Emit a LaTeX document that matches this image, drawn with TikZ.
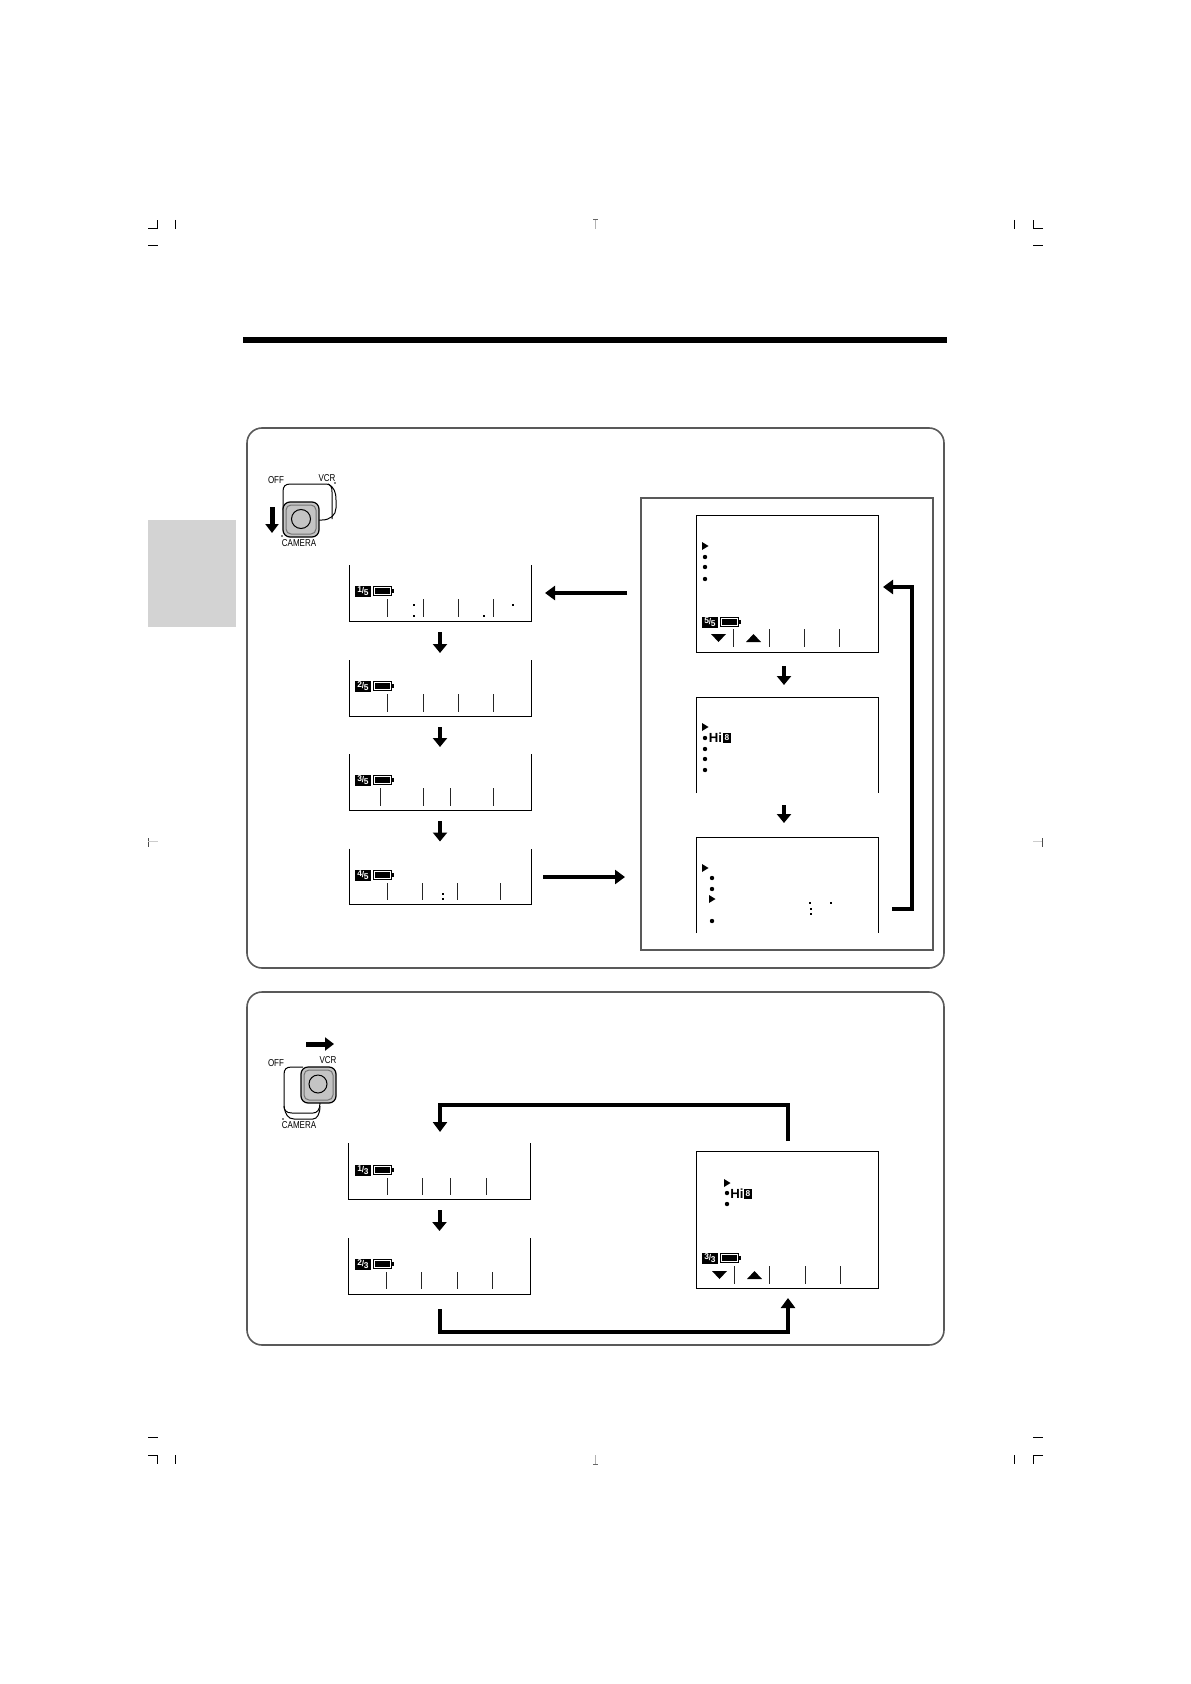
\documentclass[tikz,border=0pt]{standalone}
\usepackage{fontspec}
\setmainfont{Liberation Sans}
\usetikzlibrary{arrows.meta}
\definecolor{tabgray}{HTML}{D3D3D3}
\definecolor{keygray}{HTML}{C4C4C4}
\newcommand{\frc}[2]{\raisebox{.6pt}{#1}\kern-.1pt/\kern-.1pt\raisebox{-.6pt}{#2}}
\newcommand{\status}[5]{%
  \begin{scope}[shift={(#2,#3)}]
    \node[badge] (#1-badge) at (8,5) {\frc{#4}{#5}};
    \draw[line width=.6pt] (18.5,.5) rectangle (36.5,9.5);
    \fill (20,2) rectangle (35,8);
    \fill (36.5,3) rectangle (38.5,7);
  \end{scope}}
\newcommand{\openscr}[1]{\draw[scrline] (#1.north west) -- (#1.south west) -- (#1.south east) -- (#1.north east);}
\begin{document}
\begin{tikzpicture}[x=.5pt,y=-.5pt,
    every node/.style={inner sep=0pt,outer sep=0pt},
    scr/.style={minimum width=91pt,minimum height=28pt},
    fullscr/.style={draw,line width=.45pt,minimum width=91pt,minimum height=68.5pt},
    scrline/.style={line width=.45pt},
    ticks/.style={line width=.45pt,black!85},
    badge/.style={fill=black,text=white,minimum width=8pt,minimum height=5.5pt,font=\fontsize{4.2}{4}\bfseries},
    lab/.style={font=\fontsize{5}{5}\selectfont,xscale=.8,transform shape},
    stepline/.style={line width=2pt,-{Triangle[width=7pt,length=4.5pt]}},
    bigline/.style={line width=2.2pt,-{Triangle[width=7pt,length=5pt]}},
    panel/.style={draw=black!65,line width=.8pt,rounded corners=7.5pt},
    crop/.style={line width=.5pt},
    keyline/.style={line width=.5pt},
    keybtn/.style={draw,fill=keygray,line width=.6pt,rounded corners=3.5pt},
    keyin/.style={draw=black!55,line width=.5pt,rounded corners=2.5pt}]
  \useasboundingbox (0,0) rectangle (1190,1684);

  \draw[crop] (148,229) -- (157.5,229) -- (157.5,220);
  \draw[crop] (1043,229) -- (1033,229) -- (1033,220);
  \draw[crop] (148,1455) -- (157.5,1455) -- (157.5,1464);
  \draw[crop] (1043,1455) -- (1033,1455) -- (1033,1464);
  \foreach \x in {175,1014} {
    \draw[crop] (\x,220) -- (\x,229);
    \draw[crop] (\x,1455) -- (\x,1464);
  }
  \foreach \x in {148,1033} {
    \draw[crop] (\x,246) -- (\x+10,246);
    \draw[crop] (\x,1437) -- (\x+10,1437);
  }
  \draw[crop,black!70] (148,838) -- (148,847);
  \draw[crop,black!70] (1042,838) -- (1042,847);
  \draw[crop,black!20] (148,841.5) -- (158,841.5);
  \draw[crop,black!20] (1033,841.5) -- (1042,841.5);
  \draw[crop,black!30] (595,220) -- (595,229);
  \draw[crop,black!60] (593,220) -- (598,220);
  \draw[crop,black!30] (595,1455) -- (595,1464);
  \draw[crop,black!60] (593,1464) -- (598,1464);

  \fill (243,337) rectangle (947,343);
  \fill[tabgray] (148,520) rectangle (236,627);
  \draw[panel] (247,428) rectangle (944,968);
  \draw[panel] (247,992) rectangle (944,1345);
  \draw[draw=black!65,line width=1pt] (641,498) rectangle (933,950);

  \node[lab] (off1) at (276,480) {OFF};
  \node[lab] (vcr1) at (327,478) {VCR};
  \node[lab] (cam1) at (299,543) {CAMERA};
  \draw[keyline] (283,510) -- (283,492) .. controls (283,486) and (285,484) .. (291,484) -- (326,484) .. controls (331,484) and (332,487) .. (332,492) -- (332,519);
  \draw[keyline] (328,484) .. controls (334,487) and (336,492) .. (336,500) -- (336,508) .. controls (336,515) and (330,520) .. (322,520) -- (319,520);
  \draw[keybtn] (283,502) rectangle (319,537);
  \draw[keyin] (286,505) rectangle (316,534);
  \draw[keyline] (301,519) circle (9.5);
  \fill (335,483) circle (.8);
  \fill (282,536) circle (.8);
  \coordinate (push1a) at (272,507);
  \coordinate (push1b) at (272,533);
  \draw[line width=2.5pt,-{Triangle[width=6.5pt,length=4.5pt]}] (push1a) -- (push1b);

  \node[lab] (off2) at (276,1063) {OFF};
  \node[lab] (vcr2) at (328,1060) {VCR};
  \node[lab] (cam2) at (299,1125) {CAMERA};
  \draw[keyline] (303,1067) -- (292,1067) .. controls (286,1067) and (284,1069) .. (284,1075) -- (284,1106) .. controls (284,1110) and (286,1113) .. (292,1113) -- (313,1113) .. controls (317,1113) and (320,1110) .. (320,1103);
  \draw[keyline] (284,1106) .. controls (285,1114) and (288,1119) .. (294,1119) -- (313,1119) .. controls (317,1119) and (320,1114) .. (320,1106);
  \draw[keybtn] (301,1067) rectangle (336,1103);
  \draw[keyin] (304,1070) rectangle (333,1100);
  \draw[keyline] (318,1084) circle (9);
  \fill (283,1119) circle (.8);
  \coordinate (push2a) at (306,1044);
  \coordinate (push2b) at (334,1044);
  \draw[line width=2.5pt,-{Triangle[width=6.5pt,length=4.5pt]}] (push2a) -- (push2b);

  \node[scr] (sa) at (440,593) {};
  \node[scr] (sb) at (440,688) {};
  \node[scr] (sc) at (440,782) {};
  \node[scr] (sd) at (440,876.5) {};
  \node[scr] (va) at (439.5,1171) {};
  \node[scr] (vb) at (439.5,1266) {};
  \foreach \s in {sa,sb,sc,sd,va,vb} {\openscr{\s}}
  \node[fullscr] (ra) at (787.5,583.5) {};
  \node[scr,minimum height=48pt] (rb) at (787.5,745) {};
  \node[scr,minimum height=48pt] (rc) at (787.5,885) {};
  \node[fullscr] (vr) at (787.5,1220) {};
  \draw[scrline] (rb.south west) -- (rb.north west) -- (rb.north east) -- (rb.south east);
  \draw[scrline] (rc.south west) -- (rc.north west) -- (rc.north east) -- (rc.south east);

  \status{sa}{355}{586}{1}{5}
  \status{sb}{355}{681}{2}{5}
  \status{sc}{355}{775}{3}{5}
  \status{sd}{355}{870}{4}{5}
  \status{va}{355}{1165}{1}{3}
  \status{vb}{355}{1259}{2}{3}
  \status{ra}{702}{617}{5}{5}
  \status{vr}{702}{1253}{3}{3}

  \foreach \x in {387,423,458,493} {
    \draw[ticks] (\x,599) -- (\x,617);
    \draw[ticks] (\x,694) -- (\x,712);
  }
  \foreach \x in {380,423,450,493} \draw[ticks] (\x,788) -- (\x,806);
  \foreach \x in {387,422,457,500} \draw[ticks] (\x,883) -- (\x,900);
  \foreach \x in {387,422,450,486} \draw[ticks] (\x,1178) -- (\x,1195);
  \foreach \x in {386,421,457,492} \draw[ticks] (\x,1272) -- (\x,1289);
  \foreach \x in {733,769,804,839} \draw[ticks] (\x,629) -- (\x,647);
  \foreach \x in {734,769,805,840} \draw[ticks] (\x,1266) -- (\x,1284);

  \foreach \x/\y in {702/546,702/727,702/868,709/899,724/1183}
    \fill (\x,\y-4) -- (\x+6.5,\y) -- (\x,\y+4) -- cycle;
  \foreach \x/\y in {705/557,705/567,705/579,705/738,705/749,705/759,705/770,712/878,712/889,712/921,727/1193,727/1204}
    \fill (\x,\y) circle (2.2);
  \foreach \x/\y in {711/634,712/1271}
    \fill (\x,\y) -- (\x+15,\y) -- (\x+7.5,\y+8) -- cycle;
  \foreach \x/\y in {746/642,747/1279}
    \fill (\x,\y) -- (\x+15,\y) -- (\x+7.5,\y-8) -- cycle;
  \foreach \x/\y in {414/605,414/616,484/616,513/605,443/894,443/899,810/903,831/903,811/909,811/914}
    \fill (\x-.8,\y-.8) rectangle (\x+.8,\y+.8);

  \node[font=\fontsize{6.6}{5}\bfseries] (hia) at (715.5,738) {Hi};
  \node[fill=black,text=white,minimum width=4.2pt,minimum height=4.6pt,font=\fontsize{4.2}{4}\bfseries] (eia) at (727,738) {8};
  \node[font=\fontsize{6.6}{5}\bfseries] (hib) at (737,1194) {Hi};
  \node[fill=black,text=white,minimum width=4.2pt,minimum height=4.6pt,font=\fontsize{4.2}{4}\bfseries] (eib) at (748,1194) {8};

  \foreach \u/\v in {sa/sb,sb/sc,sc/sd,va/vb}
    \draw[stepline] ([yshift=-5.5pt]\u.south) -- ([yshift=3.5pt]\v.north);
  \draw[stepline] ([xshift=-1.75pt,yshift=-7pt]ra.south) -- ([xshift=-1.75pt,yshift=6pt]rb.north);
  \draw[stepline] ([xshift=-1.75pt,yshift=-6pt]rb.south) -- ([xshift=-1.75pt,yshift=7pt]rc.north);

  \coordinate (backout) at (627,593);
  \coordinate (menufrom) at (543,877);
  \coordinate (menuin) at (625,877);
  \coordinate (loopa) at (892,909);
  \coordinate (loopb) at (883,587);
  \coordinate (vra) at (788,1141);
  \coordinate (vrb) at (788,1298);
  \draw[bigline] (backout) -- ([xshift=7pt]sa.east |- backout);
  \draw[bigline] (menufrom) -- (menuin);
  \draw[bigline,line width=2.3pt] (loopa) -- (912,909) -- (912,587) -- (loopb);
  \draw[bigline,line width=2.3pt] (vra) -- (788,1105) -- (440,1105) -- ([yshift=5.5pt]va.north -| 440,0);
  \draw[bigline,line width=2.3pt] ([yshift=-7.5pt]vb.south -| 440,0) -- (440,1332) -- (788,1332) -- (vrb);
\end{tikzpicture}
\end{document}
